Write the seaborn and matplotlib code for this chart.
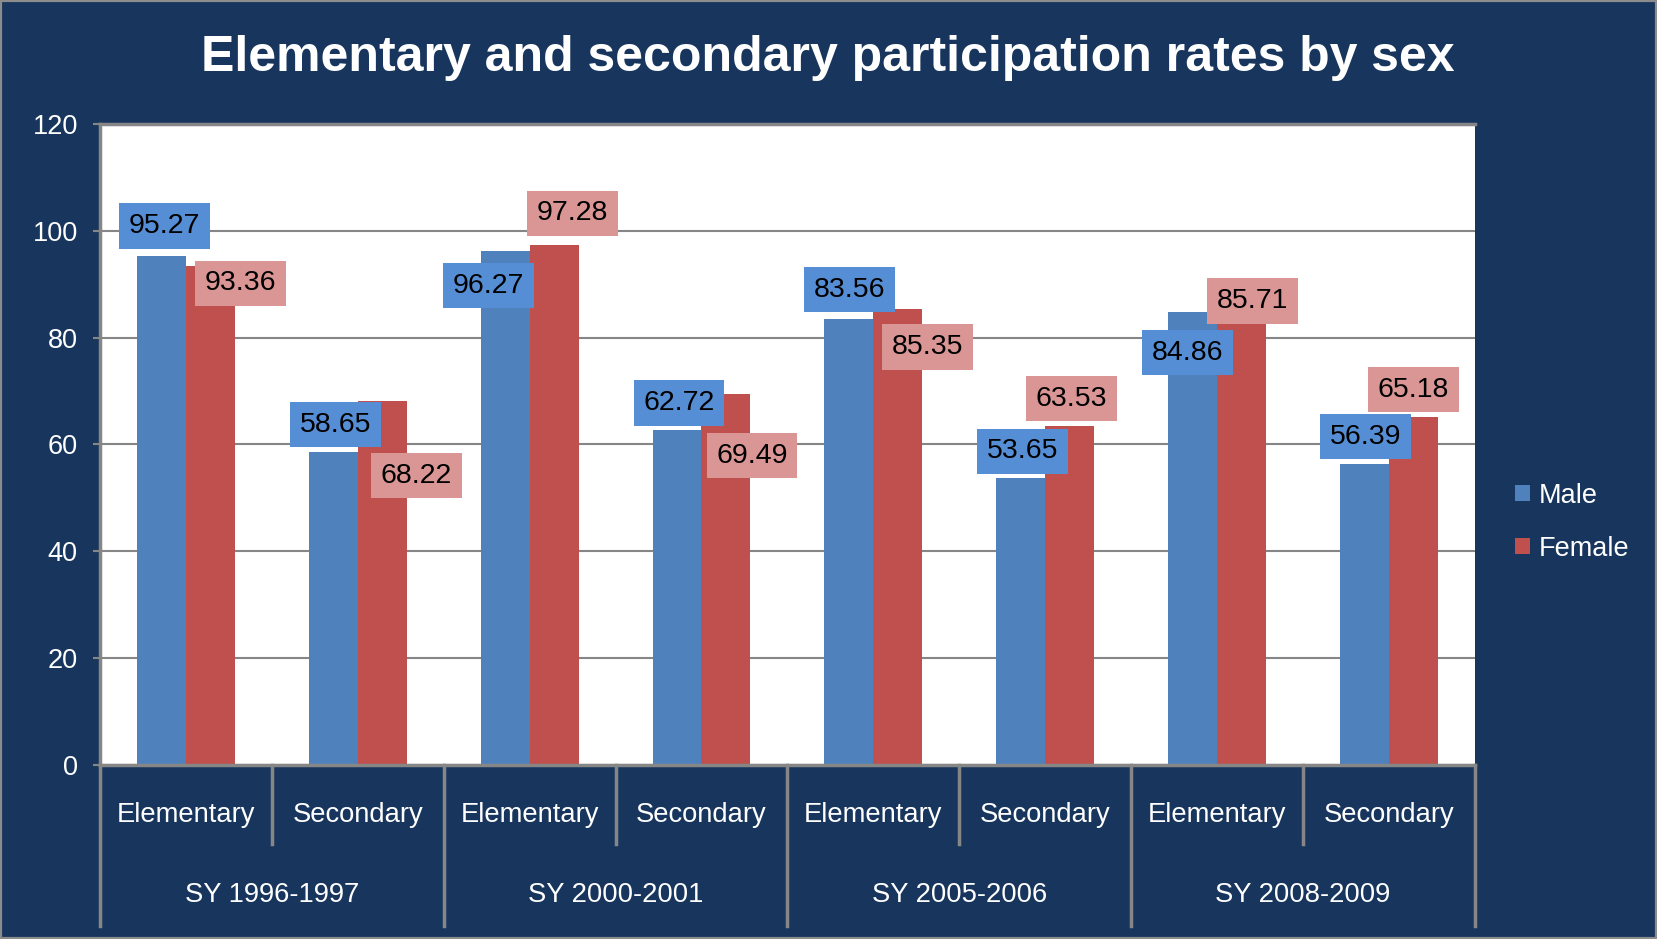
import matplotlib
matplotlib.use("Agg")
import numpy as np
import pandas as pd
import seaborn as sns
from matplotlib import pyplot as plt
from matplotlib.patches import Rectangle

YEARS = ["SY 1996-1997", "SY 2000-2001", "SY 2005-2006", "SY 2008-2009"]
LEVELS = ["Elementary", "Secondary"]
MALE = [95.27, 58.65, 96.27, 62.72, 83.56, 53.65, 84.86, 56.39]
FEMALE = [93.36, 68.22, 97.28, 69.49, 85.35, 63.53, 85.71, 65.18]

# label offsets from the bar top (pixels)
MALE_OFFSETS = [(3, 30), (2, 27), (-17, -35), (2, 27), (1, 29), (2, 27), (-5, -41), (1, 27)]
FEMALE_OFFSETS = [(30, -17), (34, -75), (18, 32), (26, -62), (30, -38), (2, 27), (11, 6), (0, 27)]

BG = "#18365d"
GRID = "#868686"
COLORS = {"Male": "#4f81bd", "Female": "#c0504d"}
BOX = {"Male": "#558ed5", "Female": "#d99694"}

slots = [f"{y}|{lv}" for y in YEARS for lv in LEVELS]
df = pd.DataFrame({
    "slot": slots * 2,
    "sex": ["Male"] * len(MALE) + ["Female"] * len(FEMALE),
    "value": MALE + FEMALE,
})

plt.rcParams["font.family"] = ["Liberation Sans", "DejaVu Sans"]

fig = plt.figure(figsize=(16.57, 9.39), dpi=100, facecolor=BG)
ax = fig.add_axes([0.0604, 0.1853, 0.8296, 0.6827])
ax.set_facecolor("white")

sns.barplot(data=df, x="slot", y="value", hue="sex", order=slots,
            hue_order=["Male", "Female"], palette=COLORS, width=0.57,
            saturation=1, ax=ax, errorbar=None)

ax.set_xlim(-0.5, 7.5)
ax.set_ylim(0, 120)
ax.set_yticks(np.arange(0, 121, 20))
ax.yaxis.grid(True, color=GRID, linewidth=1.5)
ax.set_axisbelow(True)
ax.tick_params(axis="y", colors=GRID, labelcolor="white", labelsize=19.5,
               length=5, width=1.5, pad=11)
ax.set_xticks([])
ax.set_xlabel("")
ax.set_ylabel("")
for side in ["left", "bottom", "top"]:
    ax.spines[side].set_color(GRID)
    ax.spines[side].set_linewidth(2.5)
ax.spines["right"].set_visible(False)

# data labels
for cont, sex, vals, offs in [(ax.containers[0], "Male", MALE, MALE_OFFSETS),
                              (ax.containers[1], "Female", FEMALE, FEMALE_OFFSETS)]:
    for bar, v, (dx, dy) in zip(cont, vals, offs):
        ax.annotate(f"{v:.2f}", xy=(bar.get_x() + bar.get_width() / 2, v),
                    xytext=(dx, dy), textcoords="offset pixels",
                    ha="center", va="center", fontsize=20.5, color="black",
                    bbox=dict(boxstyle="square,pad=0.34", fc=BOX[sex], ec="none"),
                    zorder=5)

# two-level category axis
xt = ax.get_xaxis_transform()
for i, s in enumerate(slots):
    ax.annotate(s.split("|")[1], xy=(i, 0), xycoords=xt, xytext=(0, -50),
                textcoords="offset pixels", ha="center", va="center",
                fontsize=19.7, color="white")
for j, y in enumerate(YEARS):
    ax.annotate(y, xy=(2 * j + 0.5, 0), xycoords=xt, xytext=(0, -130),
                textcoords="offset pixels", ha="center", va="center",
                fontsize=19.7, color="white")
for b in np.arange(-0.5, 8, 1):
    low = -0.251 if (b + 0.5) % 2 == 0 else -0.123
    ax.plot([b, b], [0, low], transform=xt, color=GRID, lw=2.5, clip_on=False)

leg = ax.legend(loc="upper left", bbox_to_anchor=(0.9145, 0.486),
                bbox_transform=fig.transFigure, frameon=False, fontsize=19.5,
                labelcolor="white", handlelength=0.55, handleheight=0.55,
                handletextpad=0.3, labelspacing=1.0, borderpad=0,
                borderaxespad=0)

fig.text(0.4998, 1 - 58 / 939, "Elementary and secondary participation rates by sex",
         ha="center", va="center", color="white", fontsize=36, fontweight="bold")

fig.patches.append(Rectangle((0, 0), 1, 1, transform=fig.transFigure, fill=False,
                             edgecolor="#8c8c8c", lw=3))

fig.savefig("out.png", dpi=100, facecolor=BG)
